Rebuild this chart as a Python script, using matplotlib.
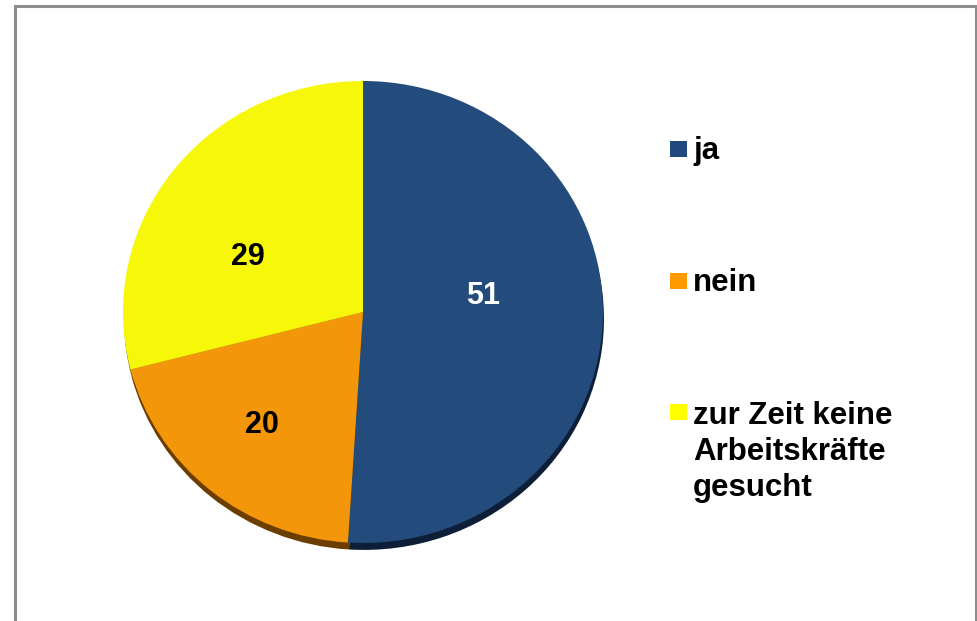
import matplotlib.pyplot as plt
from matplotlib.patches import Rectangle

labels = ['ja', 'nein', 'zur Zeit keine\nArbeitskräfte\ngesucht']
values = [51, 20, 29]
colors = ['#234B7C', '#F39609', '#F7F70A']
shadow_colors = ['#0C1E38', '#6B3E00', '#7A7A00']
legend_colors = ['#1F497D', '#FF9900', '#FFFF00']
label_colors = ['white', 'black', 'black']

plt.rcParams['font.family'] = ['Liberation Sans', 'DejaVu Sans']

W, H = 978, 621
fig = plt.figure(figsize=(W / 100, H / 100), dpi=100)

# pie sits in an axes that spans the ellipse (slightly wider than tall)
ax = fig.add_axes([123 / W, (H - 543) / H, 480 / W, 462 / H])
ax.axis('off')

# shadow underneath
sh, _ = ax.pie(values, colors=shadow_colors, startangle=90, counterclock=False,
               center=(0.004, -0.03), radius=1.0,
               wedgeprops={'linewidth': 0})
wedges, _ = ax.pie(values, colors=colors, startangle=90, counterclock=False,
                   radius=1.0, wedgeprops={'linewidth': 0})
for w in sh + wedges:
    w.set_clip_on(False)
ax.set_aspect('auto')
ax.set_xlim(-1, 1)
ax.set_ylim(-1, 1)

# value labels (ja, nein, zur Zeit)
label_pos = [(0.50, 0.07), (-0.42, -0.49), (-0.48, 0.24)]
for v, (x, y), c in zip(values, label_pos, label_colors):
    ax.text(x, y, str(v), color=c, fontsize=22, fontweight='bold',
            ha='center', va='center')

# legend, drawn by hand to keep the wide spacing
sq_y = [149, 281, 412]
# baseline of the last line of each entry
base_y = [159, 291, 496]
for lab, c, y, b in zip(labels, legend_colors, sq_y, base_y):
    fig.add_artist(Rectangle((670 / W, (H - y - 8) / H), 17 / W, 16 / H,
                             transform=fig.transFigure, facecolor=c,
                             edgecolor='none'))
    fig.text(693 / W, (H - b) / H, lab, fontsize=22.5, fontweight='bold',
             ha='left', va='baseline', linespacing=1.26)

# grey frame around the chart area
fig.add_artist(Rectangle((15.5 / W, -0.05), (976 - 15.5) / W, 1.05 - 5.5 / H,
                         transform=fig.transFigure, fill=False,
                         edgecolor='#8C8C8C', linewidth=2.2, clip_on=False))

fig.savefig('out.png', dpi=100)
